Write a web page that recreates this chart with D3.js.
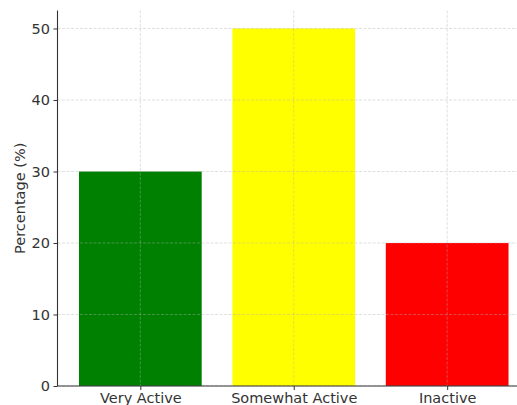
<!DOCTYPE html>
<html><head><meta charset="utf-8">
<script src="https://cdn.jsdelivr.net/npm/d3@7"></script>
<style>body{margin:0;background:#fff;}svg{display:block;}</style>
</head><body>
<script>
const categories = ["Very Active", "Somewhat Active", "Inactive"];
const values = [30, 50, 20];
const colors = ["#008000", "#ffff00", "#ff0000"];
const yTicks = [0, 10, 20, 30, 40, 50];

const W = 517, H = 405;
const svg = d3.select("body").append("svg").attr("width", W).attr("height", H);
const mLeft = 57.5, mRight = 530, mTop = 10.6, mBottom = 386;

const x = d3.scaleLinear().domain([-0.54, 2.54]).range([mLeft, mRight]);
const y = d3.scaleLinear().domain([0, 52.5]).range([mBottom, mTop]);

// bars
svg.selectAll("rect.bar").data(values).enter().append("rect")
  .attr("x", (d, i) => x(i - 0.4))
  .attr("width", (d, i) => x(i + 0.4) - x(i - 0.4))
  .attr("y", d => y(d))
  .attr("height", d => y(0) - y(d))
  .attr("fill", (d, i) => colors[i]);

// grid
const g = svg.append("g");
yTicks.forEach(t => {
  g.append("line").attr("x1", mLeft).attr("x2", mRight).attr("y1", y(t)).attr("y2", y(t))
    .attr("stroke", "#b0b0b0").attr("stroke-opacity", 0.5).attr("stroke-width", 0.8)
    .attr("stroke-dasharray", "3,1.5");
});
categories.forEach((c, i) => {
  g.append("line").attr("x1", x(i)).attr("x2", x(i)).attr("y1", mTop).attr("y2", mBottom)
    .attr("stroke", "#b0b0b0").attr("stroke-opacity", 0.5).attr("stroke-width", 0.8)
    .attr("stroke-dasharray", "3,1.5");
});

const font = "DejaVu Sans, sans-serif";
const fs = "14.5px";
// y axis
const yAxis = svg.append("g").attr("transform", `translate(${mLeft},0)`)
  .call(d3.axisLeft(y).tickValues(yTicks).tickSize(4).tickPadding(3.5).tickFormat(d3.format("d")));
yAxis.select(".domain").attr("stroke", "#333").attr("stroke-width", 1.1).attr("d", `M0,${mTop}V${mBottom}`);
yAxis.selectAll(".tick line").attr("stroke", "#333");
yAxis.selectAll("text").attr("fill", "#333").style("font-family", font).style("font-size", fs);

// x axis
const xAxis = svg.append("g").attr("transform", `translate(0,${mBottom})`)
  .call(d3.axisBottom(x).tickValues([0, 1, 2]).tickSize(4).tickPadding(3).tickFormat(i => categories[i]));
xAxis.select(".domain").attr("stroke", "#333").attr("stroke-width", 1.1).attr("d", `M${mLeft},0H${mRight}`);
xAxis.selectAll(".tick line").attr("stroke", "#333");
xAxis.selectAll("text").attr("fill", "#333").style("font-family", font).style("font-size", fs);

svg.append("text").attr("transform", `translate(25,${(mTop + mBottom) / 2}) rotate(-90)`)
  .attr("text-anchor", "middle").attr("fill", "#333")
  .style("font-family", font).style("font-size", fs).text("Percentage (%)");
</script>
</body></html>
